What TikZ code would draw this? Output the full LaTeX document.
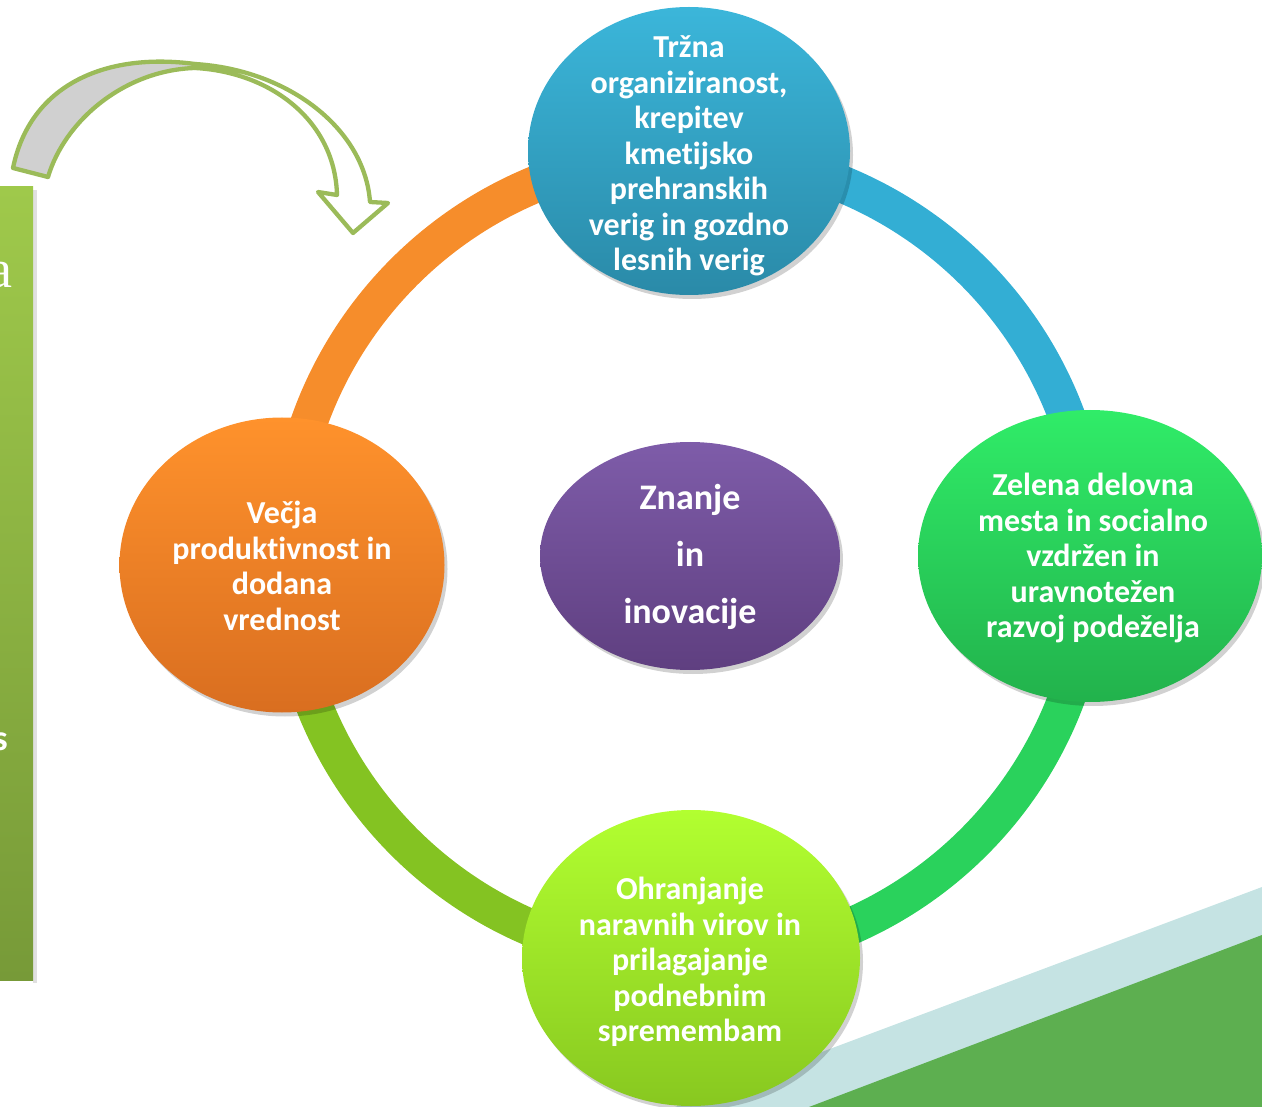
\documentclass[tikz,border=0pt]{standalone}
\usepackage{fontspec}
\setmainfont[Ligatures=NoCommon]{Carlito}
\newfontfamily\serifa{Liberation Serif}
\usetikzlibrary{shapes.geometric}
\definecolor{arrowgreen}{HTML}{9BBB59}
\definecolor{arrowgray}{HTML}{D0D0D0}
\definecolor{ringorange}{HTML}{F68D2B}
\definecolor{ringblue}{HTML}{33AED4}
\definecolor{ringgreen}{HTML}{2AD25C}
\definecolor{ringlime}{HTML}{84C322}
\definecolor{bandlight}{HTML}{C5E3E3}
\definecolor{bandgreen}{HTML}{5DAF50}
\definecolor{paneltop}{HTML}{9FC94B}
\definecolor{panelbot}{HTML}{779A38}
\definecolor{blueT}{HTML}{3BB6DA}
\definecolor{blueB}{HTML}{2A8AA8}
\definecolor{orangeT}{HTML}{FF922C}
\definecolor{orangeB}{HTML}{D96E20}
\definecolor{greenT}{HTML}{30EC68}
\definecolor{greenB}{HTML}{22B24C}
\definecolor{limeT}{HTML}{B2FF30}
\definecolor{limeB}{HTML}{88C820}
\definecolor{purpleT}{HTML}{7E5CA9}
\definecolor{purpleB}{HTML}{5F3F80}
\tikzset{
  blob/.style={ellipse, draw=none, inner sep=0pt},
  blobshadow/.style={ellipse, draw=none, inner sep=0pt, fill=black, fill opacity=0.18},
  blobtext/.style={text=white, align=center, inner sep=0pt, font=\bfseries\fontsize{32}{35.5}\selectfont},
  bigtext/.style={text=white, align=center, inner sep=0pt, font=\bfseries\fontsize{36}{57}\selectfont},
  ring/.style={line width=37pt},
  arrowline/.style={draw=arrowgreen, line width=4.3pt, line join=round}
}
\begin{document}
\begin{tikzpicture}[x=1pt,y=-1pt]
\useasboundingbox (0,0) rectangle (1262,1107);
% bottom-right decoration
\fill[bandlight] (675,1107) -- (1262,887) -- (1262,1107) -- cycle;
\fill[bandgreen] (809,1107) -- (1262,935) -- (1262,1107) -- cycle;
% left panel
\fill[black, opacity=0.12] (33,190) rectangle (37,983);
\shade[top color=paneltop, bottom color=panelbot] (0,187) rectangle (33,980);
\begin{scope}
\clip (0,187) rectangle (33,980);
\node[text=white, inner sep=0pt, anchor=base east, font=\serifa\fontsize{54}{60}\selectfont] (pa) at (13,288) {a};
\node[text=white, inner sep=0pt, anchor=base east, font=\bfseries\fontsize{36}{40}\selectfont] (ps) at (8,750) {s};
\end{scope}
% curved arrow
\filldraw[arrowline, fill=arrowgray] (13,168) .. controls (30,85) and (105,52) .. (195,64)
  -- (195,68) .. controls (125,70) and (65,120) .. (48,177) -- cycle;
\filldraw[arrowline, fill=white] (195,64) .. controls (290,70) and (365,130) .. (370,202)
  -- (388,203) -- (353,233) -- (318,192) -- (337,195)
  .. controls (335,120) and (270,72) .. (195,68) -- cycle;
% ring
\coordinate (c) at (689,557);
\draw[ring, ringorange] (c) ++(180:403) arc[start angle=180, end angle=270, radius=403];
\draw[ring, ringblue] (c) ++(270:403) arc[start angle=270, end angle=360, radius=403];
\draw[ring, ringgreen] (c) ++(0:403) arc[start angle=0, end angle=90, radius=403];
\draw[ring, ringlime] (c) ++(90:403) arc[start angle=90, end angle=180, radius=403];
% shadows
\node[blobshadow, minimum width=322pt, minimum height=288pt] (s1) at (692,155) {};
\node[blobshadow, minimum width=325pt, minimum height=295pt] (s2) at (285,569) {};
\node[blobshadow, minimum width=344pt, minimum height=292pt] (s3) at (1093,560) {};
\node[blobshadow, minimum width=338pt, minimum height=296pt] (s4) at (694,962) {};
\node[blobshadow, minimum width=300pt, minimum height=228pt] (s5) at (693,560) {};
% ellipses
\node[blob, minimum width=322pt, minimum height=288pt, top color=blueT, bottom color=blueB] (top) at (689,151) {};
\node[blob, minimum width=325pt, minimum height=295pt, top color=orangeT, bottom color=orangeB] (left) at (282,565) {};
\node[blob, minimum width=344pt, minimum height=292pt, top color=greenT, bottom color=greenB] (right) at (1090,556) {};
\node[blob, minimum width=338pt, minimum height=296pt, top color=limeT, bottom color=limeB] (bottom) at (691,958) {};
\node[blob, minimum width=300pt, minimum height=228pt, top color=purpleT, bottom color=purpleB] (center) at (690,556) {};
% texts
\node[blobtext] (toptext) at ([yshift=-5pt]top.center) {Tržna\\organiziranost,\\krepitev\\kmetijsko\\prehranskih\\verig in gozdno\\lesnih verig};
\node[blobtext] (lefttext) at ([yshift=-1pt]left.center) {Večja\\produktivnost in\\dodana\\vrednost};
\node[blobtext] (righttext) at ([xshift=3pt,yshift=-2pt]right.center) {Zelena delovna\\mesta in socialno\\vzdržen in\\uravnotežen\\razvoj podeželja};
\node[blobtext] (bottomtext) at ([xshift=-1pt,yshift=-4pt]bottom.center) {Ohranjanje\\naravnih virov in\\prilagajanje\\podnebnim\\spremembam};
\node[bigtext] (centertext) at ([yshift=-1pt]center.center) {Znanje\\in\\inovacije};
\end{tikzpicture}
\end{document}
